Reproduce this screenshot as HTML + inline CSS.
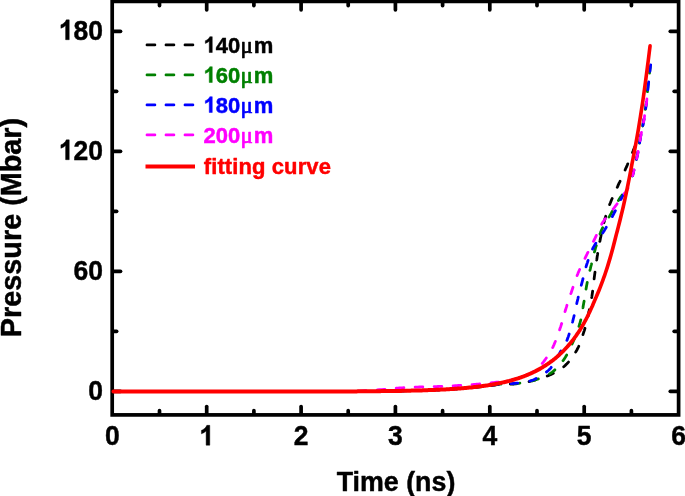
<!DOCTYPE html>
<html><head><meta charset="utf-8"><title>Pressure vs Time</title>
<style>
html,body{margin:0;padding:0;background:#fff;}
body{width:685px;height:496px;overflow:hidden;font-family:"Liberation Sans",sans-serif;}
svg{display:block;}
text{font-family:"Liberation Sans",sans-serif;font-weight:bold;stroke-width:0.45px;stroke-linejoin:round;}
.tick text,.title{stroke:#000;}
svg{will-change:transform;}
.tick text{font-size:27.6px;fill:#000;}
.tick path{fill:#000;stroke:#000;stroke-linejoin:round;}
.legend text{font-size:22px;}
.mu{font-family:"Liberation Serif",serif;font-weight:normal;font-size:23px;stroke-width:0.7px;}
.title{font-size:26.8px;fill:#000;}
.dash{fill:none;stroke-width:2.8;stroke-linejoin:round;stroke-linecap:round;}
.updash{fill:none;stroke-width:2.8;stroke-linecap:round;stroke-linejoin:round;}
</style></head>
<body>
<svg width="685" height="496" viewBox="0 0 685 496">
<rect x="0" y="0" width="685" height="496" fill="#fff"/>
<g class="frame" stroke="#000" stroke-width="3.7" fill="none">
<rect x="112.2" y="1.4" width="566.4" height="413.5"/>
</g>
<g class="ticks" stroke="#000" stroke-width="3.7" stroke-linecap="round"><line x1="206.7" y1="413.9" x2="206.7" y2="406.5"/><line x1="206.7" y1="2.4" x2="206.7" y2="9.8"/><line x1="301.1" y1="413.9" x2="301.1" y2="406.5"/><line x1="301.1" y1="2.4" x2="301.1" y2="9.8"/><line x1="395.4" y1="413.9" x2="395.4" y2="406.5"/><line x1="395.4" y1="2.4" x2="395.4" y2="9.8"/><line x1="489.8" y1="413.9" x2="489.8" y2="406.5"/><line x1="489.8" y1="2.4" x2="489.8" y2="9.8"/><line x1="584.2" y1="413.9" x2="584.2" y2="406.5"/><line x1="584.2" y1="2.4" x2="584.2" y2="9.8"/><line x1="159.5" y1="413.9" x2="159.5" y2="410.7"/><line x1="159.5" y1="2.4" x2="159.5" y2="5.6"/><line x1="253.9" y1="413.9" x2="253.9" y2="410.7"/><line x1="253.9" y1="2.4" x2="253.9" y2="5.6"/><line x1="348.2" y1="413.9" x2="348.2" y2="410.7"/><line x1="348.2" y1="2.4" x2="348.2" y2="5.6"/><line x1="442.6" y1="413.9" x2="442.6" y2="410.7"/><line x1="442.6" y1="2.4" x2="442.6" y2="5.6"/><line x1="537.0" y1="413.9" x2="537.0" y2="410.7"/><line x1="537.0" y1="2.4" x2="537.0" y2="5.6"/><line x1="631.4" y1="413.9" x2="631.4" y2="410.7"/><line x1="631.4" y1="2.4" x2="631.4" y2="5.6"/><line x1="113.2" y1="391.3" x2="120.5" y2="391.3"/><line x1="677.6" y1="391.3" x2="670.3" y2="391.3"/><line x1="113.2" y1="271.3" x2="120.5" y2="271.3"/><line x1="677.6" y1="271.3" x2="670.3" y2="271.3"/><line x1="113.2" y1="151.3" x2="120.5" y2="151.3"/><line x1="677.6" y1="151.3" x2="670.3" y2="151.3"/><line x1="113.2" y1="31.3" x2="120.5" y2="31.3"/><line x1="677.6" y1="31.3" x2="670.3" y2="31.3"/><line x1="113.2" y1="331.3" x2="116.6" y2="331.3"/><line x1="677.6" y1="331.3" x2="674.2" y2="331.3"/><line x1="113.2" y1="211.3" x2="116.6" y2="211.3"/><line x1="677.6" y1="211.3" x2="674.2" y2="211.3"/><line x1="113.2" y1="91.3" x2="116.6" y2="91.3"/><line x1="677.6" y1="91.3" x2="674.2" y2="91.3"/></g>
<g class="curves">
<path class="dash" d="M118.0 391.7L119.3 391.7L120.8 391.7L122.7 391.7L124.7 391.7L127.0 391.7L129.4 391.7L131.9 391.7L134.4 391.7L136.9 391.7L139.4 391.7L141.8 391.7L144.0 391.7L146.2 391.7L148.3 391.7L150.5 391.7L152.7 391.7L154.8 391.7L157.0 391.7L159.2 391.7L161.3 391.7L163.5 391.7L165.7 391.7L167.8 391.7L170.0 391.7L172.2 391.7L174.3 391.7L176.5 391.7L178.7 391.7L180.8 391.7L183.0 391.7L185.2 391.7L187.3 391.7L189.5 391.7L191.7 391.7L193.8 391.7L196.0 391.7L198.2 391.7L200.3 391.7L202.5 391.7L204.7 391.7L206.8 391.7L209.0 391.7L211.2 391.7L213.3 391.7L215.5 391.7L217.7 391.7L219.8 391.7L222.0 391.7L224.2 391.7L226.3 391.7L228.5 391.7L230.7 391.7L232.8 391.7L235.0 391.7L237.2 391.7L239.3 391.7L241.5 391.7L243.7 391.7L245.8 391.7L248.0 391.7L250.2 391.7L252.3 391.7L254.5 391.7L256.7 391.7L258.8 391.7L261.0 391.7L263.2 391.7L265.3 391.7L267.5 391.7L269.7 391.7L271.8 391.7L274.0 391.7L276.2 391.7L278.3 391.7L280.5 391.7L282.7 391.7L284.8 391.7L287.0 391.7L289.2 391.7L291.3 391.7L293.5 391.6L295.7 391.6L297.8 391.6L300.0 391.6L302.2 391.6L304.3 391.6L306.5 391.6L308.7 391.6L310.8 391.6L313.0 391.6L315.2 391.6L317.3 391.6L319.5 391.6L321.7 391.6L323.8 391.6L326.0 391.6L328.2 391.6L330.3 391.6L332.5 391.6L334.7 391.6L336.8 391.5L339.0 391.5L341.2 391.5L343.3 391.5L345.5 391.5L347.7 391.5L349.8 391.5L352.0 391.5L354.2 391.5L356.3 391.5L358.5 391.4L360.7 391.4L362.8 391.4L365.0 391.4L367.2 391.4L369.3 391.4L371.5 391.3L373.7 391.3L375.8 391.3L378.0 391.3L380.2 391.3L382.3 391.2L384.5 391.2L386.7 391.2L388.8 391.2L391.0 391.1L393.2 391.1L395.3 391.1L397.5 391.0L399.7 391.0L401.8 390.9L404.0 390.9L406.2 390.9L408.3 390.8L410.5 390.8L412.7 390.7L414.8 390.7L417.0 390.6L419.2 390.6L421.3 390.5L423.5 390.4L425.7 390.3L427.8 390.3L430.0 390.2L432.2 390.1L434.3 390.0L436.4 389.9L438.5 389.8L440.6 389.7L442.8 389.6L444.9 389.5L447.0 389.4L449.2 389.3L451.4 389.1L453.7 389.0L456.0 388.8L458.4 388.7L461.0 388.5L463.6 388.2L466.3 388.0L469.0 387.8L471.8 387.5L474.4 387.3L477.0 387.1L479.5 386.8L481.9 386.6L484.0 386.4L486.0 386.2L487.7 386.0L489.2 385.8L490.6 385.7L491.8 385.5L492.9 385.3L493.9 385.2L494.8 385.0L495.8 384.9L496.7 384.7L497.7 384.6L498.8 384.5L500.0 384.4L501.3 384.3L502.6 384.3L503.9 384.2L505.2 384.2L506.6 384.2L507.9 384.2L509.3 384.1L510.6 384.1L512.0 384.1L513.4 384.0L514.7 383.9L516.0 383.8L517.3 383.7L518.6 383.5L519.8 383.3L521.0 383.1L522.3 383.0L523.5 382.7L524.7 382.5L526.0 382.3L527.3 382.0L528.6 381.7L529.9 381.4L531.3 381.0L532.7 380.6L534.2 380.2L535.8 379.8L537.3 379.3L538.9 378.9L540.5 378.4L542.1 377.9L543.7 377.3L545.3 376.8L546.8 376.2L548.3 375.6L549.7 375.0L551.1 374.4L552.4 373.8L553.7 373.1L555.0 372.5L556.3 371.8L557.5 371.1L558.8 370.4L560.0 369.6L561.1 368.8L562.3 367.9L563.5 367.0L564.6 366.0L565.7 364.9L566.9 363.8L568.0 362.6L569.1 361.4L570.1 360.1L571.2 358.8L572.2 357.4L573.2 356.0L574.2 354.5L575.1 353.0L576.0 351.5L576.9 350.0L577.7 348.4L578.5 346.8L579.3 345.0L580.0 343.3L580.7 341.5L581.3 339.7L582.0 337.8L582.6 336.0L583.1 334.2L583.7 332.3L584.3 330.6L584.8 328.8L585.3 327.1L585.8 325.3L586.3 323.5L586.7 321.7L587.1 319.9L587.5 318.2L587.9 316.4L588.3 314.7L588.6 313.0L589.0 311.4L589.3 309.9L589.6 308.4L589.9 307.0L590.2 305.7L590.4 304.6L590.6 303.4L590.8 302.3L591.0 301.3L591.2 300.2L591.4 299.1L591.6 298.0L591.8 296.9L592.0 295.6L592.2 294.3L592.4 292.9L592.6 291.4L592.8 289.8L593.0 288.2L593.2 286.6L593.4 284.9L593.6 283.2L593.8 281.5L594.0 279.9L594.2 278.2L594.4 276.6L594.6 275.1L594.8 273.6L595.0 272.2L595.2 270.7L595.4 269.3L595.5 267.9L595.7 266.6L595.9 265.2L596.1 263.8L596.3 262.4L596.5 261.0L596.8 259.5L597.0 258.0L597.2 256.5L597.5 254.9L597.7 253.3L598.0 251.7L598.3 250.1L598.5 248.5L598.8 246.9L599.1 245.2L599.4 243.6L599.7 241.9L600.1 240.2L600.4 238.5L600.8 236.8L601.1 235.0L601.5 233.2L601.9 231.4L602.3 229.6L602.7 227.8L603.2 225.9L603.6 224.1L604.0 222.4L604.5 220.6L604.9 218.9L605.4 217.3L605.9 215.7L606.3 214.2L606.8 212.8L607.2 211.3L607.7 210.0L608.2 208.6L608.7 207.2L609.2 205.8L609.7 204.4L610.3 203.0L610.9 201.5L611.5 200.0L612.2 198.4L612.9 196.8L613.6 195.1L614.4 193.4L615.1 191.7L615.9 190.0L616.7 188.3L617.6 186.6L618.3 184.9L619.1 183.2L619.9 181.6L620.6 180.0L621.3 178.4L622.0 176.9L622.7 175.3L623.4 173.8L624.1 172.3L624.8 170.8L625.4 169.3L626.0 167.9L626.7 166.5L627.3 165.1L627.8 163.8L628.4 162.5L628.9 161.3L629.4 160.1L629.9 159.1L630.3 158.0L630.7 157.0L631.1 156.0L631.5 155.1L631.9 154.1L632.3 153.1L632.7 152.1L633.1 151.1L633.5 150.0L633.9 148.9L634.4 147.8L634.8 146.6" stroke="#000" stroke-dasharray="6.7 12.3" stroke-dashoffset="6.38"/>
<path class="dash" d="M118.0 391.7L119.3 391.7L120.8 391.7L122.7 391.7L124.7 391.7L127.0 391.7L129.4 391.7L131.9 391.7L134.4 391.7L136.9 391.7L139.4 391.7L141.8 391.7L144.0 391.7L146.2 391.7L148.3 391.7L150.5 391.7L152.7 391.7L154.8 391.7L157.0 391.7L159.2 391.7L161.3 391.7L163.5 391.7L165.7 391.7L167.8 391.7L170.0 391.7L172.2 391.7L174.3 391.7L176.5 391.7L178.7 391.7L180.8 391.7L183.0 391.7L185.2 391.7L187.3 391.7L189.5 391.7L191.7 391.7L193.8 391.7L196.0 391.7L198.2 391.7L200.3 391.7L202.5 391.7L204.7 391.7L206.8 391.7L209.0 391.7L211.2 391.7L213.3 391.7L215.5 391.7L217.7 391.7L219.8 391.7L222.0 391.7L224.2 391.7L226.3 391.7L228.5 391.7L230.7 391.7L232.8 391.7L235.0 391.7L237.2 391.7L239.3 391.7L241.5 391.7L243.7 391.7L245.8 391.7L248.0 391.7L250.2 391.7L252.3 391.7L254.5 391.7L256.7 391.7L258.8 391.7L261.0 391.7L263.2 391.7L265.3 391.7L267.5 391.7L269.7 391.7L271.8 391.7L274.0 391.7L276.2 391.7L278.3 391.7L280.5 391.7L282.7 391.7L284.8 391.7L287.0 391.7L289.2 391.7L291.3 391.7L293.5 391.6L295.7 391.6L297.8 391.6L300.0 391.6L302.2 391.6L304.3 391.6L306.5 391.6L308.7 391.6L310.8 391.6L313.0 391.6L315.2 391.6L317.3 391.6L319.5 391.6L321.7 391.6L323.8 391.6L326.0 391.6L328.2 391.6L330.3 391.6L332.5 391.6L334.7 391.6L336.8 391.5L339.0 391.5L341.2 391.5L343.3 391.5L345.5 391.5L347.7 391.5L349.8 391.5L352.0 391.5L354.2 391.5L356.3 391.5L358.5 391.4L360.7 391.4L362.8 391.4L365.0 391.4L367.2 391.4L369.3 391.4L371.5 391.3L373.7 391.3L375.8 391.3L378.0 391.3L380.2 391.3L382.3 391.2L384.5 391.2L386.7 391.2L388.8 391.2L391.0 391.1L393.2 391.1L395.3 391.1L397.5 391.0L399.7 391.0L401.8 390.9L404.0 390.9L406.2 390.9L408.3 390.8L410.5 390.8L412.7 390.7L414.8 390.7L417.0 390.6L419.2 390.6L421.3 390.5L423.5 390.4L425.7 390.3L427.8 390.3L430.0 390.2L432.2 390.1L434.3 390.0L436.4 389.9L438.5 389.8L440.6 389.7L442.8 389.6L444.9 389.5L447.0 389.4L449.2 389.3L451.4 389.1L453.7 389.0L456.0 388.8L458.4 388.6L461.0 388.4L463.6 388.2L466.3 388.0L469.0 387.7L471.8 387.5L474.4 387.2L477.0 387.0L479.5 386.8L481.9 386.5L484.0 386.3L486.0 386.1L487.7 385.9L489.2 385.7L490.6 385.5L491.8 385.4L492.9 385.2L493.9 385.0L494.8 384.9L495.8 384.7L496.7 384.6L497.7 384.4L498.8 384.3L500.0 384.2L501.3 384.1L502.5 384.1L503.8 384.0L505.1 384.0L506.5 384.0L507.8 384.0L509.2 384.0L510.5 383.9L511.9 383.9L513.3 383.8L514.6 383.7L516.0 383.6L517.4 383.4L518.8 383.3L520.2 383.1L521.6 382.9L523.0 382.7L524.4 382.5L525.8 382.3L527.3 382.0L528.7 381.7L530.1 381.4L531.6 381.0L533.0 380.6L534.5 380.2L536.0 379.7L537.5 379.2L539.0 378.7L540.5 378.1L542.0 377.5L543.6 376.9L545.0 376.3L546.5 375.6L547.9 374.8L549.3 374.0L550.6 373.2L551.9 372.3L553.1 371.4L554.3 370.4L555.4 369.4L556.5 368.3L557.6 367.2L558.7 366.1L559.8 364.9L560.8 363.7L561.8 362.4L562.7 361.1L563.7 359.8L564.6 358.4L565.5 357.0L566.4 355.5L567.3 353.9L568.1 352.3L568.9 350.7L569.7 349.1L570.5 347.4L571.3 345.8L572.0 344.2L572.7 342.6L573.4 341.0L574.1 339.4L574.7 337.9L575.4 336.3L576.0 334.8L576.6 333.3L577.1 331.7L577.7 330.2L578.2 328.6L578.7 327.1L579.2 325.6L579.7 324.0L580.1 322.5L580.5 321.0L580.9 319.5L581.2 318.0L581.5 316.5L581.8 315.0L582.0 313.6L582.3 312.1L582.5 310.6L582.7 309.1L583.0 307.5L583.2 306.0L583.5 304.4L583.8 302.8L584.1 301.1L584.3 299.5L584.6 297.7L584.9 296.0L585.2 294.3L585.4 292.6L585.7 290.9L586.0 289.2L586.3 287.5L586.6 285.8L586.9 284.2L587.2 282.6L587.5 281.0L587.9 279.5L588.2 278.0L588.5 276.4L588.9 274.9L589.2 273.4L589.6 271.9L589.9 270.5L590.3 269.0L590.6 267.5L591.0 266.0L591.4 264.5L591.7 263.0L592.0 261.6L592.4 260.1L592.7 258.7L593.1 257.2L593.4 255.8L593.8 254.4L594.2 252.9L594.6 251.4L595.0 250.0L595.4 248.5L595.8 247.0L596.3 245.5L596.7 243.9L597.2 242.4L597.7 240.8L598.2 239.2L598.7 237.7L599.2 236.2L599.7 234.7L600.3 233.2L600.8 231.8L601.4 230.4L602.0 229.1L602.6 227.9L603.2 226.7L603.9 225.6L604.5 224.5L605.2 223.4L605.8 222.3L606.5 221.2L607.3 220.0L608.0 218.8L608.7 217.6L609.5 216.3L610.3 214.9L611.2 213.4L612.1 211.7L613.0 210.1L614.0 208.3L614.9 206.6L615.9 205.0L616.8 203.3L617.7 201.8L618.5 200.4L619.3 199.1L620.0 198.0L620.6 197.1L621.2 196.3L621.7 195.6L622.1 195.0L622.6 194.6L623.0 194.1L623.3 193.8L623.7 193.4L624.0 193.1L624.3 192.8L624.7 192.4L625.0 192.0L625.3 191.6L625.6 191.3L625.8 191.0L626.1 190.8L626.3 190.6L626.5 190.3L626.7 190.1L626.9 189.8L627.1 189.4L627.4 188.9" stroke="#008000" stroke-dasharray="6.7 12.3" stroke-dashoffset="3.42"/>
<path class="updash" d="M650.3 66.7L650.1 67.8L650.0 68.9L649.9 70.0L649.7 71.0L649.6 72.1L649.5 73.2M648.3 83.6L648.1 84.9L647.9 86.3L647.8 87.7L647.7 89.0L647.6 90.3L647.4 91.7M646.3 102.9L646.1 104.0L646.0 105.1L645.8 106.1L645.7 107.2L645.5 108.3L645.3 109.4M643.8 119.5L643.6 120.6L643.4 121.7L643.2 122.8L643.0 123.8L642.8 124.9L642.6 126.0M640.8 134.9L640.5 136.3L640.3 137.6L640.0 139.0L639.8 140.4L639.6 141.7L639.4 143.1M637.8 152.2L637.6 153.4L637.4 154.6L637.1 155.8L636.8 157.0L636.6 158.2L636.3 159.4M633.8 170.2L633.5 171.2L633.3 172.1L633.1 173.1L632.8 174.0L632.6 175.0L632.3 175.9" stroke="#008000"/>
<path class="dash" d="M118.0 391.7L119.3 391.7L120.8 391.7L122.7 391.7L124.7 391.7L127.0 391.7L129.4 391.7L131.9 391.7L134.4 391.7L136.9 391.7L139.4 391.7L141.8 391.7L144.0 391.7L146.2 391.7L148.3 391.7L150.5 391.7L152.7 391.7L154.8 391.7L157.0 391.7L159.2 391.7L161.3 391.7L163.5 391.7L165.7 391.7L167.8 391.7L170.0 391.7L172.2 391.7L174.3 391.7L176.5 391.7L178.7 391.7L180.8 391.7L183.0 391.7L185.2 391.7L187.3 391.7L189.5 391.7L191.7 391.7L193.8 391.7L196.0 391.7L198.2 391.7L200.3 391.7L202.5 391.7L204.7 391.7L206.8 391.7L209.0 391.7L211.2 391.7L213.3 391.7L215.5 391.7L217.7 391.7L219.8 391.7L222.0 391.7L224.2 391.7L226.3 391.7L228.5 391.7L230.7 391.7L232.8 391.7L235.0 391.7L237.2 391.7L239.3 391.7L241.5 391.7L243.7 391.7L245.8 391.7L248.0 391.7L250.2 391.7L252.3 391.7L254.5 391.7L256.7 391.7L258.8 391.7L261.0 391.7L263.2 391.7L265.3 391.7L267.5 391.7L269.7 391.7L271.8 391.7L274.0 391.7L276.2 391.7L278.3 391.7L280.5 391.7L282.7 391.7L284.8 391.7L287.0 391.7L289.2 391.7L291.3 391.7L293.5 391.6L295.7 391.6L297.8 391.6L300.0 391.6L302.2 391.6L304.3 391.6L306.5 391.6L308.7 391.6L310.8 391.6L313.0 391.6L315.2 391.6L317.3 391.6L319.5 391.6L321.7 391.6L323.8 391.6L326.0 391.6L328.2 391.6L330.3 391.6L332.5 391.6L334.7 391.6L336.8 391.5L339.0 391.5L341.2 391.5L343.3 391.5L345.5 391.5L347.7 391.5L349.8 391.5L352.0 391.5L354.2 391.5L356.3 391.5L358.5 391.4L360.7 391.4L362.8 391.4L365.0 391.4L367.2 391.4L369.3 391.4L371.5 391.3L373.7 391.3L375.8 391.3L378.0 391.3L380.2 391.3L382.3 391.2L384.5 391.2L386.7 391.2L388.8 391.2L391.0 391.1L393.2 391.1L395.3 391.1L397.5 391.0L399.7 391.0L401.8 390.9L404.0 390.9L406.2 390.9L408.3 390.8L410.5 390.8L412.7 390.7L414.8 390.7L417.0 390.6L419.2 390.6L421.3 390.5L423.5 390.4L425.7 390.3L427.8 390.3L430.0 390.2L432.2 390.1L434.3 390.0L436.4 389.9L438.5 389.8L440.6 389.7L442.8 389.6L444.9 389.5L447.0 389.4L449.2 389.3L451.4 389.1L453.7 389.0L456.0 388.8L458.4 388.6L461.0 388.4L463.6 388.2L466.3 388.0L469.0 387.7L471.8 387.5L474.4 387.2L477.0 386.9L479.5 386.7L481.9 386.4L484.0 386.2L486.0 386.0L487.7 385.8L489.3 385.6L490.6 385.4L491.8 385.2L492.9 385.0L494.0 384.9L494.9 384.7L495.9 384.5L496.8 384.4L497.8 384.2L498.9 384.1L500.0 384.0L501.2 383.9L502.4 383.8L503.6 383.8L504.7 383.8L505.9 383.8L507.1 383.8L508.3 383.8L509.6 383.7L510.8 383.7L512.1 383.6L513.4 383.5L514.7 383.4L516.1 383.2L517.5 383.1L519.0 382.9L520.5 382.7L522.0 382.5L523.5 382.3L525.1 382.1L526.6 381.8L528.1 381.5L529.6 381.1L531.0 380.7L532.4 380.2L533.8 379.7L535.2 379.0L536.6 378.3L537.9 377.6L539.3 376.8L540.6 376.0L541.9 375.2L543.2 374.4L544.4 373.5L545.5 372.7L546.6 371.9L547.5 371.2L548.3 370.5L549.1 369.8L549.7 369.1L550.3 368.5L550.9 367.8L551.3 367.2L551.8 366.5L552.2 365.8L552.6 365.2L553.1 364.5L553.5 363.7L554.0 363.0L554.5 362.2L555.0 361.4L555.5 360.6L556.0 359.7L556.5 358.9L557.0 358.0L557.5 357.1L558.0 356.3L558.5 355.4L558.9 354.6L559.4 353.8L559.8 353.0L560.2 352.3L560.6 351.5L561.0 350.8L561.3 350.2L561.7 349.5L562.0 348.8L562.3 348.2L562.7 347.5L563.0 346.9L563.3 346.3L563.7 345.6L564.0 345.0L564.3 344.4L564.7 343.9L565.0 343.4L565.3 342.9L565.6 342.5L565.9 342.0L566.2 341.5L566.6 340.9L566.9 340.3L567.3 339.5L567.6 338.6L568.0 337.6L568.4 336.4L568.8 335.1L569.3 333.6L569.7 332.1L570.2 330.4L570.7 328.7L571.2 327.0L571.6 325.2L572.1 323.5L572.6 321.8L573.0 320.1L573.4 318.5L573.8 317.0L574.2 315.4L574.5 313.9L574.8 312.4L575.2 310.8L575.5 309.3L575.8 307.8L576.1 306.3L576.5 304.8L576.8 303.3L577.1 301.8L577.5 300.3L577.9 298.8L578.2 297.3L578.6 295.8L579.0 294.3L579.4 292.8L579.8 291.2L580.1 289.7L580.5 288.2L580.9 286.7L581.3 285.2L581.7 283.7L582.1 282.2L582.5 280.7L582.9 279.2L583.2 277.6L583.6 276.1L584.0 274.5L584.4 273.0L584.8 271.5L585.2 269.9L585.6 268.4L586.0 266.9L586.4 265.5L586.9 264.0L587.4 262.6L587.8 261.2L588.3 259.8L588.7 258.4L589.2 257.0L589.7 255.7L590.2 254.3L590.8 253.0L591.3 251.6L591.9 250.3L592.6 248.9L593.3 247.5L594.1 246.1L594.9 244.7L595.8 243.2L596.7 241.8L597.7 240.4L598.7 238.9L599.7 237.5L600.7 236.0L601.7 234.6L602.6 233.2L603.5 231.8L604.4 230.4L605.2 229.0L606.0 227.7L606.8 226.3L607.6 225.0L608.4 223.6L609.1 222.3L609.9 221.0L610.6 219.6L611.3 218.3L612.1 217.0L612.8 215.6L613.5 214.3L614.2 212.9L615.0 211.5L615.7 210.0L616.4 208.5L617.2 207.0L617.9 205.5L618.6 204.1L619.2 202.7L619.9 201.4L620.5 200.1L621.1 199.0L621.6 198.0L622.1 197.1L622.5 196.4L622.9 195.7L623.3 195.2L623.6 194.7L623.9 194.3L624.2 193.9L624.5 193.5L624.7 193.2L625.0 192.8L625.2 192.4L625.5 192.0L625.7 191.6L626.0 191.3L626.2 191.0L626.3 190.8L626.5 190.6L626.6 190.3L626.8 190.1L627.0 189.8L627.2 189.4L627.4 188.9" stroke="#0000ff" stroke-dasharray="6.7 12.3" stroke-dashoffset="5.54"/>
<path class="updash" d="M650.7 64.9L650.5 66.0L650.4 67.1L650.3 68.2L650.1 69.2L650.0 70.3L649.9 71.4M648.7 81.8L648.5 83.2L648.4 84.5L648.2 85.8L648.1 87.2L647.9 88.6L647.8 89.9M646.6 102.1L646.4 103.2L646.3 104.3L646.1 105.3L646.0 106.4L645.8 107.5L645.7 108.6M644.1 119.0L643.9 120.1L643.7 121.2L643.5 122.2L643.3 123.3L643.1 124.4L642.9 125.5M641.0 134.6L640.7 136.0L640.5 137.3L640.3 138.7L640.1 140.1L639.8 141.4L639.6 142.8M638.0 152.2L637.8 153.4L637.6 154.6L637.3 155.8L637.0 157.0L636.8 158.2L636.5 159.4M634.0 170.2L633.7 171.2L633.5 172.1L633.3 173.1L633.0 174.0L632.8 175.0L632.5 175.9" stroke="#0000ff"/>
<path class="dash" d="M118.0 391.7L119.3 391.7L120.8 391.7L122.7 391.7L124.7 391.7L127.0 391.7L129.4 391.7L131.9 391.7L134.4 391.7L136.9 391.7L139.4 391.7L141.8 391.7L144.0 391.7L146.2 391.7L148.3 391.7L150.5 391.7L152.7 391.7L154.8 391.7L157.0 391.7L159.2 391.7L161.3 391.7L163.5 391.7L165.7 391.7L167.8 391.7L170.0 391.7L172.2 391.7L174.3 391.7L176.5 391.7L178.7 391.7L180.8 391.7L183.0 391.7L185.2 391.7L187.3 391.7L189.5 391.7L191.7 391.7L193.8 391.7L196.0 391.7L198.2 391.7L200.3 391.7L202.5 391.7L204.7 391.7L206.8 391.7L209.0 391.7L211.2 391.7L213.3 391.7L215.5 391.7L217.7 391.7L219.8 391.7L222.0 391.7L224.2 391.7L226.3 391.7L228.5 391.7L230.7 391.7L232.8 391.7L235.0 391.7L237.2 391.7L239.3 391.7L241.5 391.7L243.7 391.7L245.8 391.7L248.0 391.7L250.2 391.7L252.3 391.7L254.5 391.7L256.7 391.7L258.8 391.7L261.0 391.7L263.2 391.7L265.3 391.7L267.5 391.7L269.7 391.7L271.8 391.7L274.0 391.7L276.2 391.7L278.3 391.7L280.5 391.7L282.7 391.7L284.8 391.7L287.0 391.7L289.2 391.7L291.3 391.7L293.5 391.6L295.7 391.6L297.8 391.6L300.0 391.6L302.2 391.6L304.3 391.6L306.5 391.6L308.7 391.6L310.8 391.6L313.0 391.6L315.2 391.6L317.3 391.6L319.5 391.6L321.7 391.6L323.8 391.6L326.0 391.6L328.1 391.6L330.3 391.6L332.4 391.6L334.4 391.6L336.5 391.6L338.6 391.7L340.7 391.7L342.9 391.7L345.1 391.6L347.3 391.6L349.6 391.6L352.0 391.5L354.5 391.4L357.2 391.2L359.9 391.1L362.8 390.9L365.7 390.7L368.6 390.5L371.4 390.3L374.2 390.1L376.9 389.9L379.5 389.7L381.8 389.6L384.0 389.4L385.9 389.3L387.6 389.1L389.2 389.0L390.6 388.8L391.9 388.7L393.2 388.6L394.4 388.5L395.6 388.3L396.7 388.2L398.0 388.1L399.3 388.0L400.7 387.9L402.2 387.8L403.7 387.7L405.2 387.6L406.8 387.5L408.4 387.5L409.9 387.4L411.5 387.3L413.1 387.2L414.7 387.2L416.3 387.1L417.8 387.1L419.4 387.0L421.0 386.9L422.5 386.9L424.1 386.9L425.6 386.8L427.1 386.8L428.7 386.8L430.2 386.7L431.8 386.7L433.3 386.6L434.9 386.6L436.4 386.6L438.0 386.5L439.6 386.4L441.1 386.4L442.7 386.3L444.2 386.2L445.8 386.2L447.3 386.1L448.9 386.0L450.4 386.0L452.0 385.9L453.6 385.8L455.2 385.7L456.8 385.6L458.4 385.5L460.1 385.4L461.7 385.3L463.4 385.2L465.1 385.1L466.8 385.0L468.5 384.8L470.1 384.7L471.8 384.6L473.5 384.5L475.1 384.3L476.7 384.2L478.3 384.1L479.9 383.9L481.5 383.8L483.0 383.6L484.6 383.5L486.2 383.3L487.7 383.2L489.2 383.0L490.7 382.9L492.2 382.7L493.6 382.6L495.0 382.4L496.4 382.2L497.7 382.1L499.0 382.0L500.2 381.8L501.5 381.7L502.7 381.5L503.9 381.4L505.1 381.2L506.3 381.0L507.5 380.8L508.8 380.6L510.0 380.3L511.3 380.0L512.6 379.7L513.9 379.3L515.2 379.0L516.5 378.6" stroke="#ff00ff" stroke-dasharray="7.7 11.3" stroke-dashoffset="6.68"/>
<path class="dash" d="M516.5 378.6L517.8 378.2L519.1 377.8L520.4 377.4L521.6 376.9L522.8 376.5L523.9 376.1L525.0 375.7L526.0 375.3L527.0 374.9L527.9 374.5L528.8 374.1L529.6 373.8L530.4 373.4L531.2 373.0L532.0 372.5L532.8 372.1L533.5 371.6L534.3 371.1L535.0 370.6L535.7 370.0L536.5 369.4L537.2 368.8L537.9 368.2L538.5 367.5L539.2 366.8L539.8 366.1L540.5 365.4L541.1 364.7L541.7 364.0L542.3 363.3L542.9 362.6L543.5 361.9L544.0 361.2L544.6 360.5L545.1 359.7L545.6 359.0L546.1 358.3L546.6 357.5L547.1 356.8L547.6 356.1L548.1 355.3L548.5 354.6L549.0 353.8L549.5 353.1L549.9 352.4L550.3 351.7L550.7 351.1L551.1 350.5L551.5 349.8L551.9 349.1L552.3 348.4L552.7 347.5L553.2 346.6L553.6 345.6L554.1 344.5L554.6 343.2L555.2 341.8L555.8 340.3L556.4 338.7L557.0 337.1L557.6 335.4L558.2 333.6L558.9 331.9L559.5 330.2L560.0 328.5L560.6 326.9L561.1 325.3L561.6 323.8L562.0 322.4L562.4 320.9L562.8 319.5L563.2 318.2L563.6 316.8L564.0 315.4L564.4 314.0L564.7 312.7L565.1 311.3L565.6 309.8L566.0 308.4L566.5 306.9L566.9 305.4L567.4 303.9L567.9 302.4L568.4 300.9L568.9 299.4L569.4 297.8L569.9 296.3L570.4 294.8L571.0 293.2L571.5 291.7L572.0 290.2L572.5 288.7L573.0 287.2L573.6 285.6L574.1 284.1L574.6 282.6L575.1 281.0L575.7 279.5L576.2 278.0L576.8 276.5L577.3 275.0L577.9 273.6L578.5 272.1L579.1 270.7L579.7 269.3L580.4 267.9L581.0 266.5L581.6 265.1L582.3 263.7L583.0 262.4L583.6 261.0L584.3 259.7L585.0 258.3L585.6 257.0L586.3 255.6L587.0 254.2L587.6 252.9L588.3 251.6L589.0 250.2L589.6 248.9L590.3 247.6L591.0 246.3L591.7 244.9L592.3 243.6L593.0 242.2L593.7 240.9L594.4 239.5L595.1 238.1L595.8 236.7L596.4 235.2L597.1 233.7L597.7 232.3L598.4 230.8L599.1 229.3L599.8 227.9L600.5 226.4L601.2 225.0L602.0 223.6L602.8 222.3L603.7 221.0L604.6 219.7L605.5 218.4L606.5 217.1L607.5 215.9L608.5 214.6L609.5 213.4L610.5 212.3L611.5 211.1L612.4 210.0L613.2 209.0L614.0 208.0L614.7 207.1L615.4 206.2L616.0 205.3L616.6 204.6L617.1 203.8L617.6 203.1L618.1 202.4L618.6 201.7L619.1 201.0L619.5 200.4L620.0 199.7L620.5 199.0L621.0 198.3L621.5 197.6L622.0 196.9L622.5 196.3L623.0 195.6L623.4 195.0L623.9 194.3L624.3 193.7L624.8 193.1L625.2 192.6L625.6 192.0L625.9 191.5L626.2 191.0L626.5 190.7L626.7 190.3L626.9 190.1L627.1 189.8L627.3 189.6L627.4 189.3L627.6 189.0L627.8 188.6L628.0 188.2" stroke="#ff00ff" stroke-dasharray="6.7 12.3" stroke-dashoffset="7.46"/>
<path class="updash" d="M646.9 98.8L646.8 99.9L646.7 101.0L646.6 102.0L646.4 103.1L646.3 104.2L646.1 105.3M644.6 115.7L644.5 116.8L644.3 117.9L644.2 119.0L643.9 120.0L643.7 121.1L643.5 122.2M641.5 132.4L641.2 133.8L640.9 135.1L640.7 136.5L640.4 137.9L640.2 139.2L640.0 140.6M638.1 151.4L637.9 152.6L637.7 153.8L637.5 155.0L637.2 156.2L636.9 157.4L636.7 158.6M634.0 169.9L633.8 170.8L633.6 171.8L633.3 172.8L633.1 173.7L632.9 174.7L632.6 175.6" stroke="#ff00ff"/>
<path d="M126.44 391.6L125.83 391.6L126.88 391.6L127.92 391.6L128.97 391.6L130.02 391.6L131.07 391.6L132.12 391.6L133.17 391.6L134.22 391.6L135.26 391.6L136.31 391.6L137.36 391.6L138.41 391.6L139.46 391.6L140.51 391.6L141.56 391.6L142.61 391.6L143.65 391.6L144.70 391.6L145.75 391.6L146.80 391.6L147.85 391.6L148.90 391.6L149.95 391.6L150.99 391.6L152.04 391.6L153.09 391.6L154.14 391.6L155.19 391.6L156.24 391.6L157.29 391.6L158.34 391.6L159.38 391.6L160.43 391.6L161.48 391.6L162.53 391.6L163.58 391.6L164.63 391.6L165.68 391.6L166.72 391.6L167.77 391.6L168.82 391.6L169.87 391.6L170.92 391.6L171.97 391.6L173.02 391.6L174.07 391.6L175.11 391.6L176.16 391.6L177.21 391.6L178.26 391.6L179.31 391.6L180.36 391.6L181.41 391.6L182.45 391.6L183.50 391.6L184.55 391.6L185.60 391.6L186.65 391.6L187.70 391.6L188.75 391.6L189.80 391.6L190.84 391.6L191.89 391.6L192.94 391.6L193.99 391.6L195.04 391.6L196.09 391.6L197.14 391.6L198.18 391.6L199.23 391.6L200.28 391.6L201.33 391.6L202.38 391.6L203.43 391.6L204.48 391.6L205.53 391.6L206.57 391.6L207.62 391.6L208.67 391.6L209.72 391.6L210.77 391.6L211.82 391.6L212.87 391.6L213.91 391.6L214.96 391.6L216.01 391.6L217.06 391.6L218.11 391.6L219.16 391.6L220.21 391.6L221.26 391.6L222.30 391.6L223.35 391.6L224.40 391.6L225.45 391.6L226.50 391.6L227.55 391.6L228.60 391.6L229.64 391.6L230.69 391.6L231.74 391.6L232.79 391.6L233.84 391.6L234.89 391.6L235.94 391.6L236.99 391.6L238.03 391.6L239.08 391.6L240.13 391.6L241.18 391.6L242.23 391.6L243.28 391.6L244.33 391.6L245.37 391.6L246.42 391.6L247.47 391.6L248.52 391.6L249.57 391.6L250.62 391.6L251.67 391.6L252.72 391.6L253.76 391.6L254.81 391.6L255.86 391.6L256.91 391.6L257.96 391.6L259.01 391.6L260.06 391.6L261.10 391.6L262.15 391.6L263.20 391.6L264.25 391.6L265.30 391.6L266.35 391.6L267.40 391.6L268.45 391.6L269.49 391.6L270.54 391.6L271.59 391.6L272.64 391.6L273.69 391.6L274.74 391.6L275.79 391.6L276.83 391.6L277.88 391.6L278.93 391.6L279.98 391.6L281.03 391.6L282.08 391.6L283.13 391.6L284.18 391.6L285.22 391.6L286.27 391.6L287.32 391.6L288.37 391.6L289.42 391.6L290.47 391.6L291.52 391.6L292.56 391.6L293.61 391.6L294.66 391.6L295.71 391.6L296.76 391.6L297.81 391.6L298.86 391.6L299.91 391.6L300.95 391.6L302.00 391.6L303.05 391.6L304.10 391.6L305.15 391.6L306.20 391.6L307.25 391.6L308.29 391.6L309.34 391.6L310.39 391.6L311.44 391.6L312.49 391.6L313.54 391.6L314.59 391.6L315.64 391.6L316.68 391.6L317.73 391.6L318.78 391.6L319.83 391.6L320.88 391.6L321.93 391.6L322.98 391.6L324.02 391.6L325.07 391.5L326.12 391.5L327.17 391.5L328.22 391.5L329.27 391.5L330.32 391.5L331.37 391.5L332.41 391.5L333.46 391.5L334.51 391.5L335.56 391.5L336.61 391.5L337.66 391.5L338.71 391.5L339.75 391.5L340.80 391.5L341.85 391.5L342.90 391.5L343.95 391.5L345.00 391.5L346.05 391.5L347.10 391.5L348.14 391.5L349.19 391.5L350.24 391.5L351.29 391.5L352.34 391.5L353.39 391.5L354.44 391.5L355.48 391.5L356.53 391.5L357.58 391.5L358.63 391.5L359.68 391.5L360.73 391.5L361.78 391.5L362.83 391.5L363.87 391.5L364.92 391.5L365.97 391.5L367.02 391.5L368.07 391.5L369.12 391.5L370.17 391.5L371.21 391.5L372.26 391.5L373.31 391.5L374.36 391.4L375.41 391.4L376.46 391.4L377.51 391.4L378.56 391.4L379.60 391.4L380.65 391.4L381.70 391.4L382.75 391.4L383.80 391.4L384.85 391.4L385.90 391.4L386.94 391.4L387.99 391.4L389.04 391.4L390.09 391.4L391.14 391.4L392.19 391.4L393.24 391.4L394.29 391.4L395.33 391.4L396.38 391.4L397.43 391.3L398.48 391.3L399.53 391.3L400.58 391.3L401.63 391.3L402.67 391.3L403.72 391.3L404.77 391.3L405.82 391.3L406.87 391.3L407.92 391.3L408.97 391.3L410.02 391.3L411.06 391.3L412.11 391.2L413.16 391.2L414.21 391.2L415.26 391.2L416.31 391.2L417.36 391.2L418.40 391.2L419.45 391.2L420.50 391.2L421.55 391.2L422.60 391.2L423.65 391.1L424.70 391.1L425.75 391.1L426.79 391.1L427.84 391.1L428.89 391.1L429.94 391.1L430.99 391.1L432.04 391.1L433.09 391.0L434.13 391.0L435.18 391.0L436.23 391.0L437.28 391.0L438.33 391.0L439.38 391.0L440.43 390.9L441.48 390.9L442.52 390.9L443.57 390.9L444.62 390.9L445.67 390.9L446.72 390.8L447.77 390.8L448.82 390.8L449.86 390.8L450.91 390.8L451.96 390.7L453.01 390.7L454.06 390.7L455.11 390.7L456.16 390.7L457.21 390.6L458.25 390.6L459.30 390.6L460.35 390.6L461.40 390.5L462.45 390.5L463.50 390.5L464.55 390.5L465.59 390.4L466.64 390.4L467.69 390.4L468.74 390.4L469.79 390.3L470.84 390.3L471.89 390.3L472.94 390.2L473.98 390.2L475.03 390.2L476.08 390.1L477.13 390.1L478.18 390.1L479.23 390.0L480.28 390.0L481.32 390.0L482.37 389.9L483.42 389.9L484.47 389.8L485.52 389.8L486.57 389.8L487.62 389.7L488.67 389.7L489.71 389.6L490.76 389.6L491.81 389.5L492.86 389.5L493.91 389.4L494.96 389.4L496.01 389.3L497.05 389.3L498.10 389.2L499.15 389.2L500.20 389.1L501.25 389.1L502.30 389.0L503.35 388.9L504.40 388.9L505.44 388.8L506.49 388.7L507.54 388.7L508.59 388.6L509.64 388.5L510.69 388.5L511.74 388.4L512.78 388.3L513.83 388.2L514.88 388.2L515.93 388.1L516.98 388.0L518.03 387.9L519.08 387.8L520.13 387.7L521.17 387.6L522.22 387.5L523.27 387.4L524.32 387.4L525.37 387.3L526.42 387.1L527.47 387.0L528.51 386.9L529.56 386.8L530.61 386.7L531.66 386.6L532.71 386.5L533.76 386.4L534.81 386.2L535.86 386.1L536.90 386.0L537.95 385.8L539.00 385.7L540.05 385.6L541.10 385.4L542.15 385.3L543.20 385.1L544.24 385.0L545.29 384.8L546.34 384.7L547.39 384.5L548.44 384.3L549.49 384.2L550.54 384.0L551.59 383.8L552.63 383.6L553.68 383.4L554.73 383.2L555.78 383.1L556.83 382.8L557.88 382.6L558.93 382.4L559.97 382.2L561.02 382.0L562.07 381.8L563.12 381.5L564.17 381.3L565.22 381.1L566.27 380.8L567.32 380.6L568.36 380.3L569.41 380.0L570.46 379.8L571.51 379.5L572.56 379.2L573.61 378.9L574.66 378.6L575.70 378.3L576.75 378.0L577.80 377.7L578.85 377.3L579.90 377.0L580.95 376.6L582.00 376.3L583.05 375.9L584.09 375.6L585.14 375.2L586.19 374.8L587.24 374.4L588.29 374.0L589.34 373.6L590.39 373.2L591.43 372.7L592.48 372.3L593.53 371.8L594.58 371.4L595.63 370.9L596.68 370.4L597.73 369.9L598.78 369.4L599.82 368.9L600.87 368.3L601.92 367.8L602.97 367.2L604.02 366.6L605.07 366.0L606.12 365.4L607.16 364.8L608.21 364.2L609.26 363.5L610.31 362.9L611.36 362.2L612.41 361.5L613.46 360.8L614.51 360.1L615.55 359.3L616.60 358.6L617.65 357.8L618.70 357.0L619.75 356.2L620.80 355.4L621.85 354.5L622.89 353.6L623.94 352.7L624.99 351.8L626.04 350.9L627.09 349.9L628.12 348.9L629.15 347.9L630.18 346.9L631.21 345.8L632.25 344.8L633.28 343.7L634.31 342.5L635.33 341.4L636.36 340.2L637.39 339.0L638.42 337.7L639.45 336.5L640.47 335.2L641.50 333.8L642.53 332.5L643.55 331.1L644.57 329.7L645.56 328.2L646.55 326.7L647.53 325.2L648.52 323.6L649.50 322.0L650.48 320.4L651.46 318.7L652.44 317.0L653.42 315.2L654.39 313.4L655.37 311.6L656.34 309.7L657.31 307.7L658.28 305.8L659.24 303.7L660.21 301.7L661.19 299.5L662.25 297.4L663.30 295.2L664.36 292.9L665.42 290.6L666.48 288.2L667.53 285.7L668.59 283.2L669.65 280.7L670.71 278.1L671.77 275.4L672.82 272.6L673.88 269.8L674.88 267.0L675.89 264.0L676.89 261.0L677.89 258.0L678.89 254.8L679.88 251.6L680.88 248.3L681.87 244.9L682.87 241.4L683.86 237.9L684.87 234.3L685.97 230.6L687.06 226.8L688.16 222.9L689.26 218.9L690.36 214.8L691.46 210.7L692.57 206.4L693.67 202.0L694.76 197.6L695.84 193.0L696.92 188.3L698.00 183.5L699.08 178.6L700.16 173.6L701.24 168.5L702.35 163.2L703.52 157.8L704.69 152.3L705.86 146.7L707.04 140.9L708.22 135.0L709.39 128.9L710.51 122.7L711.63 116.4L712.75 109.9L713.87 103.3L714.97 96.5L716.04 89.5L717.12 82.4L718.19 75.1L719.27 67.6L720.35 60.0L721.42 52.2L722.28 46.0" transform="scale(0.9,1)" fill="none" stroke="#ff0000" stroke-width="4.0" stroke-linejoin="round" stroke-linecap="round"/>
</g>
<g class="tick"><g transform="translate(112.3,445.2) scale(0.96,1)"><text x="-7.67" y="0">0</text></g><g transform="translate(206.7,445.2) scale(0.96,1)"><path d="M806 0L525 0L525 1059Q371 915 162 846L162 1101Q272 1137 401 1237.5Q530 1338 578 1472L806 1472Z" transform="translate(-7.67,0) scale(0.01348,-0.01348)" stroke-width="33"/></g><g transform="translate(301.1,445.2) scale(0.96,1)"><text x="-7.67" y="0">2</text></g><g transform="translate(395.4,445.2) scale(0.96,1)"><text x="-7.67" y="0">3</text></g><g transform="translate(489.8,445.2) scale(0.96,1)"><text x="-7.67" y="0">4</text></g><g transform="translate(584.2,445.2) scale(0.96,1)"><text x="-7.67" y="0">5</text></g><g transform="translate(678.6,445.2) scale(0.96,1)"><text x="-7.67" y="0">6</text></g><g transform="translate(103.0,399.7) scale(0.96,1)"><text x="-15.35" y="0">0</text></g><g transform="translate(103.0,279.7) scale(0.96,1)"><text x="-30.69" y="0">6</text><text x="-15.35" y="0">0</text></g><g transform="translate(103.0,159.7) scale(0.96,1)"><path d="M806 0L525 0L525 1059Q371 915 162 846L162 1101Q272 1137 401 1237.5Q530 1338 578 1472L806 1472Z" transform="translate(-46.04,0) scale(0.01348,-0.01348)" stroke-width="33"/><text x="-30.69" y="0">2</text><text x="-15.35" y="0">0</text></g><g transform="translate(103.0,39.7) scale(0.96,1)"><path d="M806 0L525 0L525 1059Q371 915 162 846L162 1101Q272 1137 401 1237.5Q530 1338 578 1472L806 1472Z" transform="translate(-46.04,0) scale(0.01348,-0.01348)" stroke-width="33"/><text x="-30.69" y="0">8</text><text x="-15.35" y="0">0</text></g></g>
<g class="legend"><line x1="147" y1="44.9" x2="195" y2="44.9" stroke="#000" stroke-width="2.8" stroke-dasharray="7.9 11.1" stroke-linecap="round"/><path d="M806 0L525 0L525 1059Q371 915 162 846L162 1101Q272 1137 401 1237.5Q530 1338 578 1472L806 1472Z" transform="translate(203.60,52.5) scale(0.01074,-0.01074)" fill="#000" stroke="#000" stroke-width="42" stroke-linejoin="round"/><text x="215.83" y="52.5" fill="#000" stroke="#000">40<tspan class="mu" dx="0.3">μ</tspan><tspan dx="0.9">m</tspan></text><line x1="147" y1="74.9" x2="195" y2="74.9" stroke="#008000" stroke-width="2.8" stroke-dasharray="7.9 11.1" stroke-linecap="round"/><path d="M806 0L525 0L525 1059Q371 915 162 846L162 1101Q272 1137 401 1237.5Q530 1338 578 1472L806 1472Z" transform="translate(203.60,82.5) scale(0.01074,-0.01074)" fill="#008000" stroke="#008000" stroke-width="42" stroke-linejoin="round"/><text x="215.83" y="82.5" fill="#008000" stroke="#008000">60<tspan class="mu" dx="0.3">μ</tspan><tspan dx="0.9">m</tspan></text><line x1="147" y1="104.9" x2="195" y2="104.9" stroke="#0000ff" stroke-width="2.8" stroke-dasharray="7.9 11.1" stroke-linecap="round"/><path d="M806 0L525 0L525 1059Q371 915 162 846L162 1101Q272 1137 401 1237.5Q530 1338 578 1472L806 1472Z" transform="translate(203.60,112.5) scale(0.01074,-0.01074)" fill="#0000ff" stroke="#0000ff" stroke-width="42" stroke-linejoin="round"/><text x="215.83" y="112.5" fill="#0000ff" stroke="#0000ff">80<tspan class="mu" dx="0.3">μ</tspan><tspan dx="0.9">m</tspan></text><line x1="147" y1="134.9" x2="195" y2="134.9" stroke="#ff00ff" stroke-width="2.8" stroke-dasharray="7.9 11.1" stroke-linecap="round"/><text x="203.60" y="142.5" fill="#ff00ff" stroke="#ff00ff">200<tspan class="mu" dx="0.3">μ</tspan><tspan dx="0.9">m</tspan></text><line x1="145.5" y1="166.5" x2="195" y2="166.5" stroke="#f00" stroke-width="4"/><text x="203.8" y="174" fill="#f00" stroke="#f00" letter-spacing="0.1">fitting curve</text></g>
<text class="title" x="396" y="490.5" text-anchor="middle">Time (ns)</text>
<text class="title" style="font-size:28.8px" transform="translate(21.2,227.5) rotate(-90)" text-anchor="middle">Pressure (Mbar)</text>
</svg>
</body></html>
